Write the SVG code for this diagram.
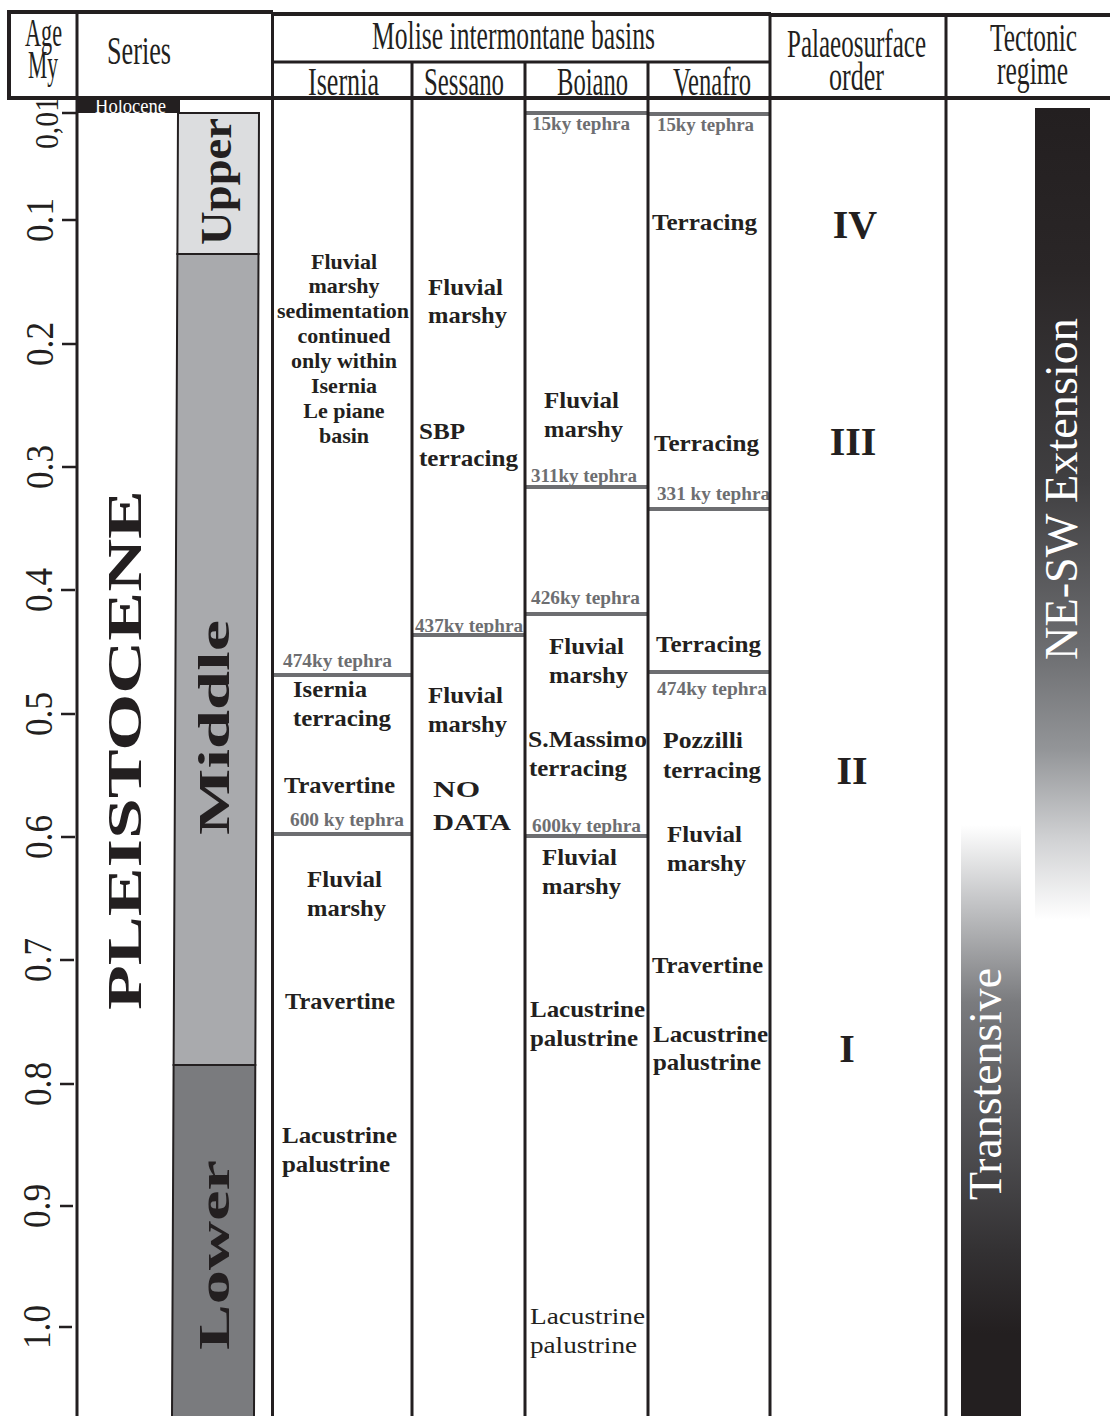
<svg xmlns="http://www.w3.org/2000/svg" width="1110" height="1416" viewBox="0 0 1110 1416">
<style>
.ln{stroke:#231f20;stroke-width:3;fill:none}
.hl{stroke:#231f20;stroke-width:4;fill:none}
.tl{stroke:#6d6e71;stroke-width:4;fill:none}
.tk{stroke:#231f20;stroke-width:2.5}
.h{font-family:"Liberation Serif",serif;font-size:41px;fill:#231f20}
.b{font-family:"Liberation Serif",serif;font-weight:bold;font-size:24px;fill:#231f20}
.r{font-family:"Liberation Serif",serif;font-size:24px;fill:#231f20}
.s{font-family:"Liberation Serif",serif;font-weight:bold;font-size:22px;fill:#231f20}
.tp{font-family:"Liberation Serif",serif;font-weight:bold;font-size:18px;fill:#6d6e71}
.ax{font-family:"Liberation Serif",serif;font-size:40px;fill:#231f20}
.rn{font-family:"Liberation Serif",serif;font-weight:bold;font-size:40px;fill:#231f20}
.ser{font-family:"Liberation Serif",serif;font-weight:bold;font-size:44px;fill:#231f20}
.tec{font-family:"Liberation Serif",serif;font-size:46px;fill:#ffffff}
</style>
<defs>
<linearGradient id="gExt" x1="0" y1="0" x2="0" y2="1">
<stop offset="0" stop-color="#231f20"/>
<stop offset="0.2" stop-color="#2a2627"/>
<stop offset="0.46" stop-color="#403f41"/>
<stop offset="0.67" stop-color="#6d6e71"/>
<stop offset="0.79" stop-color="#939598"/>
<stop offset="0.9" stop-color="#d0d1d3"/>
<stop offset="1" stop-color="#ffffff"/>
</linearGradient>
<linearGradient id="gTra" x1="0" y1="0" x2="0" y2="1">
<stop offset="0" stop-color="#ffffff"/>
<stop offset="0.13" stop-color="#c4c5c7"/>
<stop offset="0.3" stop-color="#7a7b7e"/>
<stop offset="0.47" stop-color="#5a5a5d"/>
<stop offset="0.72" stop-color="#333133"/>
<stop offset="0.86" stop-color="#231f20"/>
<stop offset="1" stop-color="#231f20"/>
</linearGradient>
</defs>
<rect width="1110" height="1416" fill="#ffffff"/>

<!-- Series column -->
<g id="holocene">
<rect x="78" y="99" width="102" height="14" fill="#231f20"/>
<text x="95" y="113" font-family="Liberation Serif, serif" font-size="20" fill="#ffffff" textLength="71" lengthAdjust="spacingAndGlyphs">Holocene</text>
</g>
<g id="upper">
<polygon points="178,113 259,113 258.5,254 177.4,254" fill="#dcdddf" stroke="#231f20" stroke-width="2"/>
<text class="ser" transform="translate(231,245) rotate(-90)" textLength="127" lengthAdjust="spacingAndGlyphs">Upper</text>
</g>
<g id="middle">
<polygon points="177.4,254 258.5,254 255.3,1065 173.6,1065" fill="#a9aaad" stroke="#231f20" stroke-width="2"/>
<text class="ser" transform="translate(229,835) rotate(-90)" textLength="215" lengthAdjust="spacingAndGlyphs">Middle</text>
</g>
<g id="lower">
<polygon points="173.6,1065 255.3,1065 254,1418 172,1418" fill="#7a7b7e" stroke="#231f20" stroke-width="2"/>
<text class="ser" transform="translate(229,1350) rotate(-90)" textLength="190" lengthAdjust="spacingAndGlyphs">Lower</text>
</g>
<g id="pleistocene">
<text transform="translate(141,1010) rotate(-90)" font-family="Liberation Serif, serif" font-weight="bold" font-size="48" fill="#231f20" textLength="520" lengthAdjust="spacingAndGlyphs">PLEISTOCENE</text>
</g>

<!-- Tectonic bars -->
<g id="extension">
<rect x="1035" y="108" width="55" height="812" fill="url(#gExt)"/>
<text class="tec" transform="translate(1077,660) rotate(-90)" textLength="342" lengthAdjust="spacingAndGlyphs">NE-SW Extension</text>
</g>
<g id="transtensive">
<rect x="961" y="825" width="60" height="591" fill="url(#gTra)"/>
<text class="tec" transform="translate(1001,1200) rotate(-90)" textLength="232" lengthAdjust="spacingAndGlyphs">Transtensive</text>
</g>

<!-- Age axis -->
<g id="age-axis">
<line class="tk" x1="62" y1="113" x2="76" y2="113"/>
<line class="tk" x1="62" y1="220" x2="76" y2="220"/>
<line class="tk" x1="62" y1="344" x2="76" y2="344"/>
<line class="tk" x1="62" y1="467" x2="76" y2="467"/>
<line class="tk" x1="61" y1="590" x2="75" y2="590"/>
<line class="tk" x1="61" y1="714" x2="75" y2="714"/>
<line class="tk" x1="61" y1="837" x2="75" y2="837"/>
<line class="tk" x1="60" y1="960" x2="74" y2="960"/>
<line class="tk" x1="60" y1="1084" x2="74" y2="1084"/>
<line class="tk" x1="60" y1="1206" x2="73" y2="1206"/>
<line class="tk" x1="59" y1="1327" x2="72" y2="1327"/>
<text transform="translate(58,149) rotate(-90)" font-family="Liberation Serif, serif" font-size="34" fill="#231f20" textLength="52" lengthAdjust="spacingAndGlyphs">0,01</text>
<text class="ax" transform="translate(53,242) rotate(-90)" textLength="44" lengthAdjust="spacingAndGlyphs">0.1</text>
<text class="ax" transform="translate(53,366) rotate(-90)" textLength="44" lengthAdjust="spacingAndGlyphs">0.2</text>
<text class="ax" transform="translate(53,489) rotate(-90)" textLength="44" lengthAdjust="spacingAndGlyphs">0.3</text>
<text class="ax" transform="translate(52,612) rotate(-90)" textLength="44" lengthAdjust="spacingAndGlyphs">0.4</text>
<text class="ax" transform="translate(52,736) rotate(-90)" textLength="44" lengthAdjust="spacingAndGlyphs">0.5</text>
<text class="ax" transform="translate(52,859) rotate(-90)" textLength="44" lengthAdjust="spacingAndGlyphs">0.6</text>
<text class="ax" transform="translate(51,982) rotate(-90)" textLength="44" lengthAdjust="spacingAndGlyphs">0.7</text>
<text class="ax" transform="translate(51,1106) rotate(-90)" textLength="44" lengthAdjust="spacingAndGlyphs">0.8</text>
<text class="ax" transform="translate(50,1228) rotate(-90)" textLength="44" lengthAdjust="spacingAndGlyphs">0.9</text>
<text class="ax" transform="translate(50,1349) rotate(-90)" textLength="44" lengthAdjust="spacingAndGlyphs">1.0</text>
</g>

<!-- Isernia -->
<g id="isernia">
<text class="s" x="344" y="269" text-anchor="middle">Fluvial</text>
<text class="s" x="344" y="293" text-anchor="middle">marshy</text>
<text class="s" x="343" y="318" text-anchor="middle">sedimentation</text>
<text class="s" x="344" y="343" text-anchor="middle">continued</text>
<text class="s" x="344" y="368" text-anchor="middle">only within</text>
<text class="s" x="344" y="393" text-anchor="middle">Isernia</text>
<text class="s" x="344" y="418" text-anchor="middle">Le piane</text>
<text class="s" x="344" y="443" text-anchor="middle">basin</text>
<text class="tp" x="283" y="667" textLength="109" lengthAdjust="spacingAndGlyphs">474ky tephra</text>
<text class="b" x="293" y="697" textLength="74" lengthAdjust="spacingAndGlyphs">Isernia</text>
<text class="b" x="293" y="726" textLength="98" lengthAdjust="spacingAndGlyphs">terracing</text>
<text class="b" x="284" y="793" textLength="111" lengthAdjust="spacingAndGlyphs">Travertine</text>
<text class="tp" x="290" y="826" textLength="114" lengthAdjust="spacingAndGlyphs">600 ky tephra</text>
<text class="b" x="307" y="887" textLength="75" lengthAdjust="spacingAndGlyphs">Fluvial</text>
<text class="b" x="307" y="916" textLength="79" lengthAdjust="spacingAndGlyphs">marshy</text>
<text class="b" x="285" y="1009" textLength="110" lengthAdjust="spacingAndGlyphs">Travertine</text>
<text class="b" x="282" y="1143" textLength="115" lengthAdjust="spacingAndGlyphs">Lacustrine</text>
<text class="b" x="282" y="1172" textLength="108" lengthAdjust="spacingAndGlyphs">palustrine</text>
</g>

<!-- Sessano -->
<g id="sessano">
<text class="b" x="428" y="295" textLength="75" lengthAdjust="spacingAndGlyphs">Fluvial</text>
<text class="b" x="428" y="323" textLength="79" lengthAdjust="spacingAndGlyphs">marshy</text>
<text class="b" x="419" y="439" textLength="46" lengthAdjust="spacingAndGlyphs">SBP</text>
<text class="b" x="419" y="466" textLength="99" lengthAdjust="spacingAndGlyphs">terracing</text>
<text class="tp" x="415" y="632" textLength="108" lengthAdjust="spacingAndGlyphs">437ky tephra</text>
<text class="b" x="428" y="703" textLength="75" lengthAdjust="spacingAndGlyphs">Fluvial</text>
<text class="b" x="428" y="732" textLength="79" lengthAdjust="spacingAndGlyphs">marshy</text>
<text class="b" x="433" y="797" font-size="26" textLength="47" lengthAdjust="spacingAndGlyphs">NO</text>
<text class="b" x="433" y="830" font-size="26" textLength="78" lengthAdjust="spacingAndGlyphs">DATA</text>
</g>

<!-- Boiano -->
<g id="boiano">
<text class="tp" x="532" y="130" textLength="98" lengthAdjust="spacingAndGlyphs">15ky tephra</text>
<text class="b" x="544" y="408" textLength="75" lengthAdjust="spacingAndGlyphs">Fluvial</text>
<text class="b" x="544" y="437" textLength="79" lengthAdjust="spacingAndGlyphs">marshy</text>
<text class="tp" x="531" y="482" textLength="106" lengthAdjust="spacingAndGlyphs">311ky tephra</text>
<text class="tp" x="531" y="604" textLength="109" lengthAdjust="spacingAndGlyphs">426ky tephra</text>
<text class="b" x="549" y="654" textLength="75" lengthAdjust="spacingAndGlyphs">Fluvial</text>
<text class="b" x="549" y="683" textLength="79" lengthAdjust="spacingAndGlyphs">marshy</text>
<text class="b" x="528" y="747" textLength="119" lengthAdjust="spacingAndGlyphs">S.Massimo</text>
<text class="b" x="529" y="776" textLength="98" lengthAdjust="spacingAndGlyphs">terracing</text>
<text class="tp" x="532" y="832" textLength="109" lengthAdjust="spacingAndGlyphs">600ky tephra</text>
<text class="b" x="542" y="865" textLength="75" lengthAdjust="spacingAndGlyphs">Fluvial</text>
<text class="b" x="542" y="894" textLength="79" lengthAdjust="spacingAndGlyphs">marshy</text>
<text class="b" x="530" y="1017" textLength="115" lengthAdjust="spacingAndGlyphs">Lacustrine</text>
<text class="b" x="530" y="1046" textLength="108" lengthAdjust="spacingAndGlyphs">palustrine</text>
<text class="r" x="530" y="1324" textLength="115" lengthAdjust="spacingAndGlyphs">Lacustrine</text>
<text class="r" x="530" y="1353" textLength="107" lengthAdjust="spacingAndGlyphs">palustrine</text>
</g>

<!-- Venafro -->
<g id="venafro">
<text class="tp" x="657" y="131" textLength="97" lengthAdjust="spacingAndGlyphs">15ky tephra</text>
<text class="b" x="652" y="230" textLength="105" lengthAdjust="spacingAndGlyphs">Terracing</text>
<text class="b" x="654" y="451" textLength="105" lengthAdjust="spacingAndGlyphs">Terracing</text>
<text class="tp" x="657" y="500" textLength="113" lengthAdjust="spacingAndGlyphs">331 ky tephra</text>
<text class="b" x="656" y="652" textLength="105" lengthAdjust="spacingAndGlyphs">Terracing</text>
<text class="tp" x="657" y="695" textLength="110" lengthAdjust="spacingAndGlyphs">474ky tephra</text>
<text class="b" x="663" y="748" textLength="80" lengthAdjust="spacingAndGlyphs">Pozzilli</text>
<text class="b" x="663" y="778" textLength="98" lengthAdjust="spacingAndGlyphs">terracing</text>
<text class="b" x="667" y="842" textLength="75" lengthAdjust="spacingAndGlyphs">Fluvial</text>
<text class="b" x="667" y="871" textLength="79" lengthAdjust="spacingAndGlyphs">marshy</text>
<text class="b" x="652" y="973" textLength="111" lengthAdjust="spacingAndGlyphs">Travertine</text>
<text class="b" x="653" y="1042" textLength="115" lengthAdjust="spacingAndGlyphs">Lacustrine</text>
<text class="b" x="653" y="1070" textLength="108" lengthAdjust="spacingAndGlyphs">palustrine</text>
</g>

<!-- Palaeosurface order -->
<g id="palaeosurface">
<text class="rn" x="855" y="238" text-anchor="middle">IV</text>
<text class="rn" x="853" y="455" text-anchor="middle">III</text>
<text class="rn" x="852" y="784" text-anchor="middle">II</text>
<text class="rn" x="847" y="1062" text-anchor="middle">I</text>
</g>

<!-- Tephra lines -->
<g id="tephra-lines">
<line class="tl" x1="273" y1="675" x2="411" y2="675"/>
<line class="tl" x1="273" y1="834" x2="411" y2="834"/>
<line class="tl" x1="413" y1="635" x2="524" y2="635"/>
<line class="tl" x1="526" y1="113" x2="647" y2="113"/>
<line class="tl" x1="526" y1="487" x2="647" y2="487"/>
<line class="tl" x1="526" y1="614" x2="647" y2="614"/>
<line class="tl" x1="526" y1="836" x2="647" y2="836"/>
<line class="tl" x1="649" y1="114" x2="769" y2="114"/>
<line class="tl" x1="649" y1="509" x2="769" y2="509"/>
<line class="tl" x1="649" y1="672" x2="769" y2="672"/>
</g>

<!-- Table grid -->
<g id="grid">
<line class="hl" x1="7" y1="12" x2="273" y2="12"/>
<line class="hl" x1="272" y1="14" x2="771" y2="14"/>
<line class="hl" x1="770" y1="15" x2="1110" y2="15"/>
<line class="hl" x1="9" y1="12" x2="9" y2="99"/>
<line class="ln" x1="77" y1="12" x2="77" y2="1416"/>
<line class="ln" x1="272.5" y1="12" x2="272.5" y2="1416"/>
<line class="ln" x1="272" y1="62" x2="770" y2="62"/>
<line class="ln" x1="412" y1="62" x2="412" y2="1416"/>
<line class="ln" x1="525" y1="62" x2="525" y2="1416"/>
<line class="ln" x1="648" y1="62" x2="648" y2="1416"/>
<line class="ln" x1="770" y1="14" x2="770" y2="1416"/>
<line class="ln" x1="946" y1="15" x2="946" y2="1416"/>
<line class="hl" x1="7" y1="98" x2="1110" y2="98"/>
</g>

<!-- Header -->
<g id="header">
<text class="h" x="25" y="46" font-size="31" textLength="37" lengthAdjust="spacingAndGlyphs">Age</text>
<text class="h" x="28" y="78" font-size="31" textLength="30" lengthAdjust="spacingAndGlyphs">My</text>
<text class="h" x="107" y="64" textLength="64" lengthAdjust="spacingAndGlyphs">Series</text>
<text class="h" x="372" y="49" textLength="283" lengthAdjust="spacingAndGlyphs">Molise intermontane basins</text>
<text class="h" x="308" y="95" textLength="71" lengthAdjust="spacingAndGlyphs">Isernia</text>
<text class="h" x="424" y="95" textLength="80" lengthAdjust="spacingAndGlyphs">Sessano</text>
<text class="h" x="557" y="95" textLength="71" lengthAdjust="spacingAndGlyphs">Boiano</text>
<text class="h" x="673" y="95" textLength="78" lengthAdjust="spacingAndGlyphs">Venafro</text>
<text class="h" x="787" y="57" textLength="139" lengthAdjust="spacingAndGlyphs">Palaeosurface</text>
<text class="h" x="829" y="90" textLength="55" lengthAdjust="spacingAndGlyphs">order</text>
<text class="h" x="990" y="51" textLength="87" lengthAdjust="spacingAndGlyphs">Tectonic</text>
<text class="h" x="997" y="84" textLength="71" lengthAdjust="spacingAndGlyphs">regime</text>
</g>
</svg>
